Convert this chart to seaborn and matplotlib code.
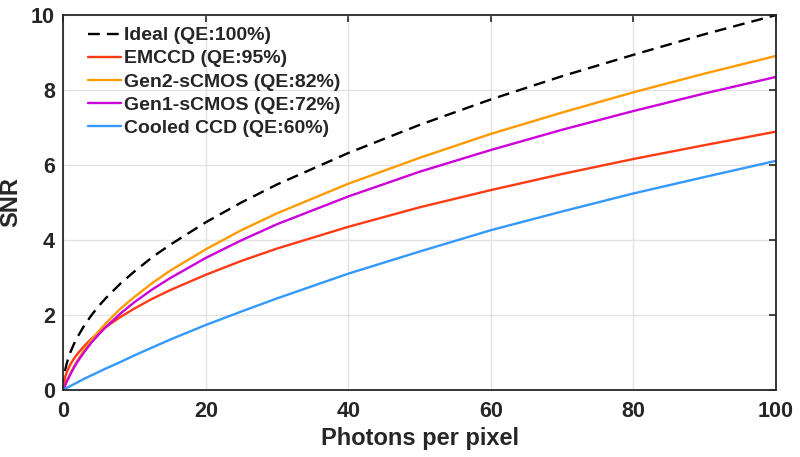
import matplotlib
matplotlib.use('Agg')
import matplotlib.pyplot as plt
import seaborn as sns

#######################################################################################################################
# DATA #
#######################################################################################################################

Photons = [0, 0.25, 0.5, 1, 1.5, 2, 3, 4, 5, 6, 8, 10, 12.5, 15, 20, 25, 30, 40, 50, 60, 70, 80, 90, 100]

Ideal_SNR = [0, 0.5, 0.71, 1.0, 1.22, 1.41, 1.73, 2.0, 2.24, 2.45, 2.83, 3.16, 3.54, 3.87, 4.47, 5.0, 5.48,
             6.32, 7.07, 7.75, 8.37, 8.94, 9.49, 10.0]
EMCCD_SNR = [0, 0.33, 0.47, 0.68, 0.83, 0.96, 1.18, 1.37, 1.53, 1.68, 1.94, 2.17, 2.43, 2.66, 3.07, 3.44, 3.77,
             4.35, 4.87, 5.33, 5.76, 6.16, 6.53, 6.89]
Gen2_SNR = [0, 0.12, 0.23, 0.44, 0.62, 0.79, 1.08, 1.34, 1.57, 1.78, 2.16, 2.48, 2.85, 3.18, 3.75, 4.26, 4.71,
            5.50, 6.19, 6.83, 7.40, 7.94, 8.44, 8.91]
Gen1_SNR = [0, 0.11, 0.22, 0.41, 0.59, 0.75, 1.02, 1.27, 1.48, 1.68, 2.03, 2.34, 2.68, 2.98, 3.52, 3.99, 4.42,
            5.16, 5.82, 6.40, 6.94, 7.44, 7.91, 8.35]
CCD_SNR = [0, 0.025, 0.05, 0.1, 0.15, 0.2, 0.3, 0.39, 0.48, 0.57, 0.74, 0.92, 1.13, 1.34, 1.73, 2.09, 2.44,
           3.10, 3.69, 4.26, 4.76, 5.24, 5.68, 6.11]

Labels = ['Ideal (QE:100%)', 'EMCCD (QE:95%)', 'Gen2-sCMOS (QE:82%)', 'Gen1-sCMOS (QE:72%)', 'Cooled CCD (QE:60%)']
Colors = ['black', '#FF3B14', '#FF9A00', '#CC00D9', '#3399FF']
Styles = [(0, (5, 3)), '-', '-', '-', '-']

#######################################################################################################################
# PLOT #
#######################################################################################################################

sns.set_style('whitegrid')
plt.rcParams['font.family'] = ['Liberation Sans', 'DejaVu Sans']
plt.rcParams['font.weight'] = 'bold'

Figure = plt.figure(figsize=(8, 4.57), dpi=100)
Axis = Figure.add_axes([0.079, 0.147, 0.891, 0.820])

for Y, Label, Color, Style in zip([Ideal_SNR, EMCCD_SNR, Gen2_SNR, Gen1_SNR, CCD_SNR], Labels, Colors, Styles):
    sns.lineplot(x=Photons, y=Y, ax=Axis, color=Color, linestyle=Style, linewidth=1.7, label=Label)

Axis.set_xlim(0, 100)
Axis.set_ylim(0, 10)
Axis.set_xticks([0, 20, 40, 60, 80, 100])
Axis.set_yticks([0, 2, 4, 6, 8, 10])
Axis.grid(True, color='#E3E3E3', linewidth=1.0)

for Spine in Axis.spines.values():
    Spine.set_color('#262626')
    Spine.set_linewidth(1.3)

Axis.tick_params(axis='both', direction='in', length=5, width=1.2, color='#262626', labelcolor='#262626',
                 labelsize=15.5, top=True, right=True)
Axis.tick_params(axis='x', pad=8)
Axis.tick_params(axis='y', pad=6)

Axis.set_xlabel('Photons per pixel', fontsize=17, fontweight='bold', color='#262626', labelpad=4)
Axis.set_ylabel('SNR', fontsize=17, fontweight='bold', color='#262626', labelpad=6)

Axis.legend(loc='upper left', bbox_to_anchor=(0.016, 1.005), frameon=False, fontsize=14, handlelength=1.7,
            handletextpad=0.15, labelspacing=0.28, borderaxespad=0.3)

Figure.savefig('out.png', dpi=100)
